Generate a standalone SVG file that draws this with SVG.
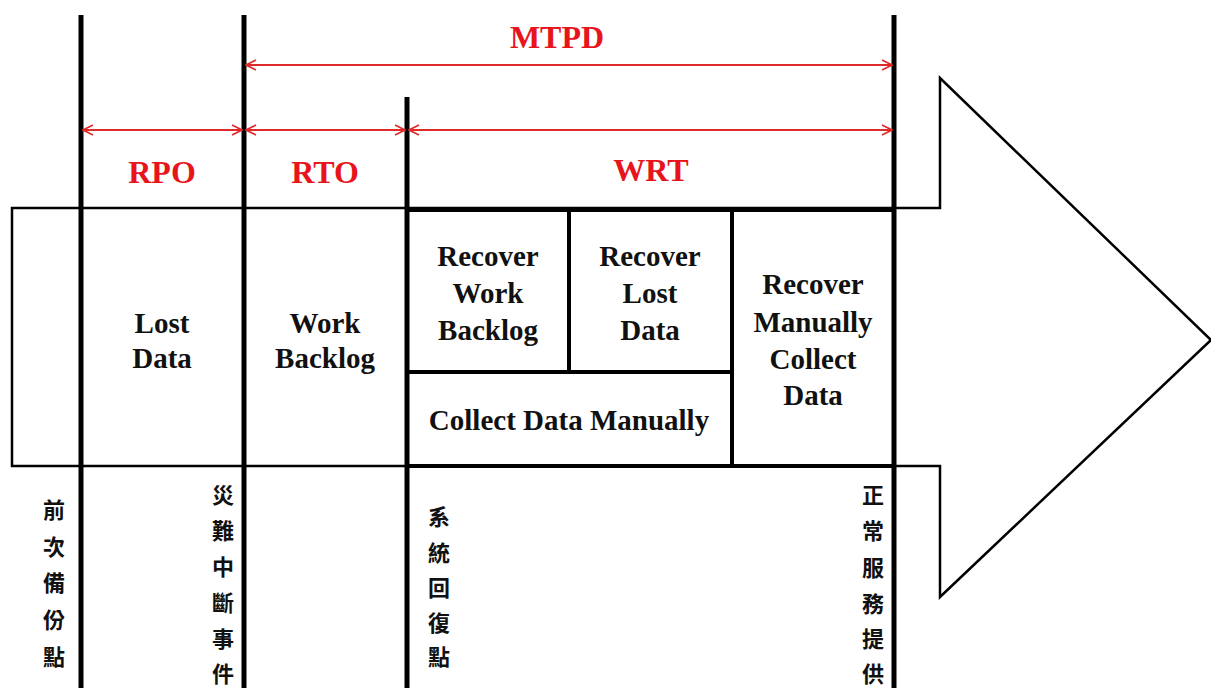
<svg xmlns="http://www.w3.org/2000/svg" width="1211" height="688" viewBox="0 0 1211 688">
<style>
.thick{stroke:#000;stroke-width:5;fill:none}
.box{stroke:#000;stroke-width:4;fill:none}
.thin{stroke:#000;stroke-width:2.5;fill:#fff}
.red{stroke:#e02a2a;stroke-width:1.8;fill:none}
.rt{font-family:"Liberation Serif",serif;font-weight:bold;font-size:32px;fill:#e8141c;text-anchor:middle}
.bt{font-family:"Liberation Serif",serif;font-weight:bold;font-size:29px;fill:#111;text-anchor:middle}
.cj{font-family:"Liberation Serif","Noto Sans CJK TC",serif;font-weight:bold;font-size:22px;fill:#111;text-anchor:middle}
</style>
<defs>
<marker id="ah" viewBox="0 0 12 12" refX="11" refY="6" markerWidth="12" markerHeight="12" markerUnits="userSpaceOnUse" orient="auto-start-reverse">
<path d="M1,1 L11,6 L1,11" fill="none" stroke="#e02a2a" stroke-width="1.6"/>
</marker>
</defs>
<rect width="1211" height="688" fill="#fff"/>
<g id="arrow-shape">
<polygon class="thin" points="12,208 940,208 940,78 1211,340 940,597 940,466 12,466"/>
</g>
<g id="wrt-box">
<rect class="box" x="407" y="210" width="487" height="256"/>
<line class="box" x1="569" y1="210" x2="569" y2="372"/>
<line class="box" x1="732" y1="210" x2="732" y2="466"/>
<line class="box" x1="407" y1="372" x2="732" y2="372"/>
</g>
<g id="timelines">
<line class="thick" x1="81" y1="15" x2="81" y2="688"/>
<line class="thick" x1="244" y1="15" x2="244" y2="688"/>
<line class="thick" x1="407" y1="97" x2="407" y2="688"/>
<line class="thick" x1="894" y1="15" x2="894" y2="688"/>
</g>
<g id="connectors">
<line class="red" x1="246" y1="65" x2="892" y2="65" marker-start="url(#ah)" marker-end="url(#ah)"/>
<line class="red" x1="83" y1="130" x2="242" y2="130" marker-start="url(#ah)" marker-end="url(#ah)"/>
<line class="red" x1="246" y1="130" x2="405" y2="130" marker-start="url(#ah)" marker-end="url(#ah)"/>
<line class="red" x1="409" y1="130" x2="892" y2="130" marker-start="url(#ah)" marker-end="url(#ah)"/>
</g>
<g id="labels-red">
<text class="rt" x="557" y="48">MTPD</text>
<text class="rt" x="162" y="183">RPO</text>
<text class="rt" x="325" y="183">RTO</text>
<text class="rt" x="651" y="181">WRT</text>
</g>
<g id="node-lost-data"><text class="bt" x="162" y="333">Lost</text><text class="bt" x="162" y="368">Data</text></g>
<g id="node-work-backlog"><text class="bt" x="325" y="333">Work</text><text class="bt" x="325" y="368">Backlog</text></g>
<g id="node-recover-work-backlog"><text class="bt" x="488" y="266">Recover</text><text class="bt" x="488" y="303">Work</text><text class="bt" x="488" y="340">Backlog</text></g>
<g id="node-recover-lost-data"><text class="bt" x="650" y="266">Recover</text><text class="bt" x="650" y="303">Lost</text><text class="bt" x="650" y="340">Data</text></g>
<g id="node-recover-manually"><text class="bt" x="813" y="294">Recover</text><text class="bt" x="813" y="332">Manually</text><text class="bt" x="813" y="369">Collect</text><text class="bt" x="813" y="405">Data</text></g>
<g id="node-collect-data-manually"><text class="bt" x="569" y="430">Collect Data Manually</text></g>
<g id="label-backup">
<text class="cj"><tspan x="54" y="518">前</tspan><tspan x="54" y="555">次</tspan><tspan x="54" y="591">備</tspan><tspan x="54" y="628">份</tspan><tspan x="54" y="665">點</tspan></text>
</g>
<g id="label-disaster">
<text class="cj"><tspan x="223" y="503">災</tspan><tspan x="223" y="539">難</tspan><tspan x="223" y="575">中</tspan><tspan x="223" y="611">斷</tspan><tspan x="223" y="647">事</tspan><tspan x="223" y="682">件</tspan></text>
</g>
<g id="label-restore">
<text class="cj"><tspan x="439" y="525">系</tspan><tspan x="439" y="561">統</tspan><tspan x="439" y="596">回</tspan><tspan x="439" y="631">復</tspan><tspan x="439" y="665">點</tspan></text>
</g>
<g id="label-service">
<text class="cj"><tspan x="873" y="503">正</tspan><tspan x="873" y="539">常</tspan><tspan x="873" y="576">服</tspan><tspan x="873" y="612">務</tspan><tspan x="873" y="647">提</tspan><tspan x="873" y="682">供</tspan></text>
</g>
</svg>
